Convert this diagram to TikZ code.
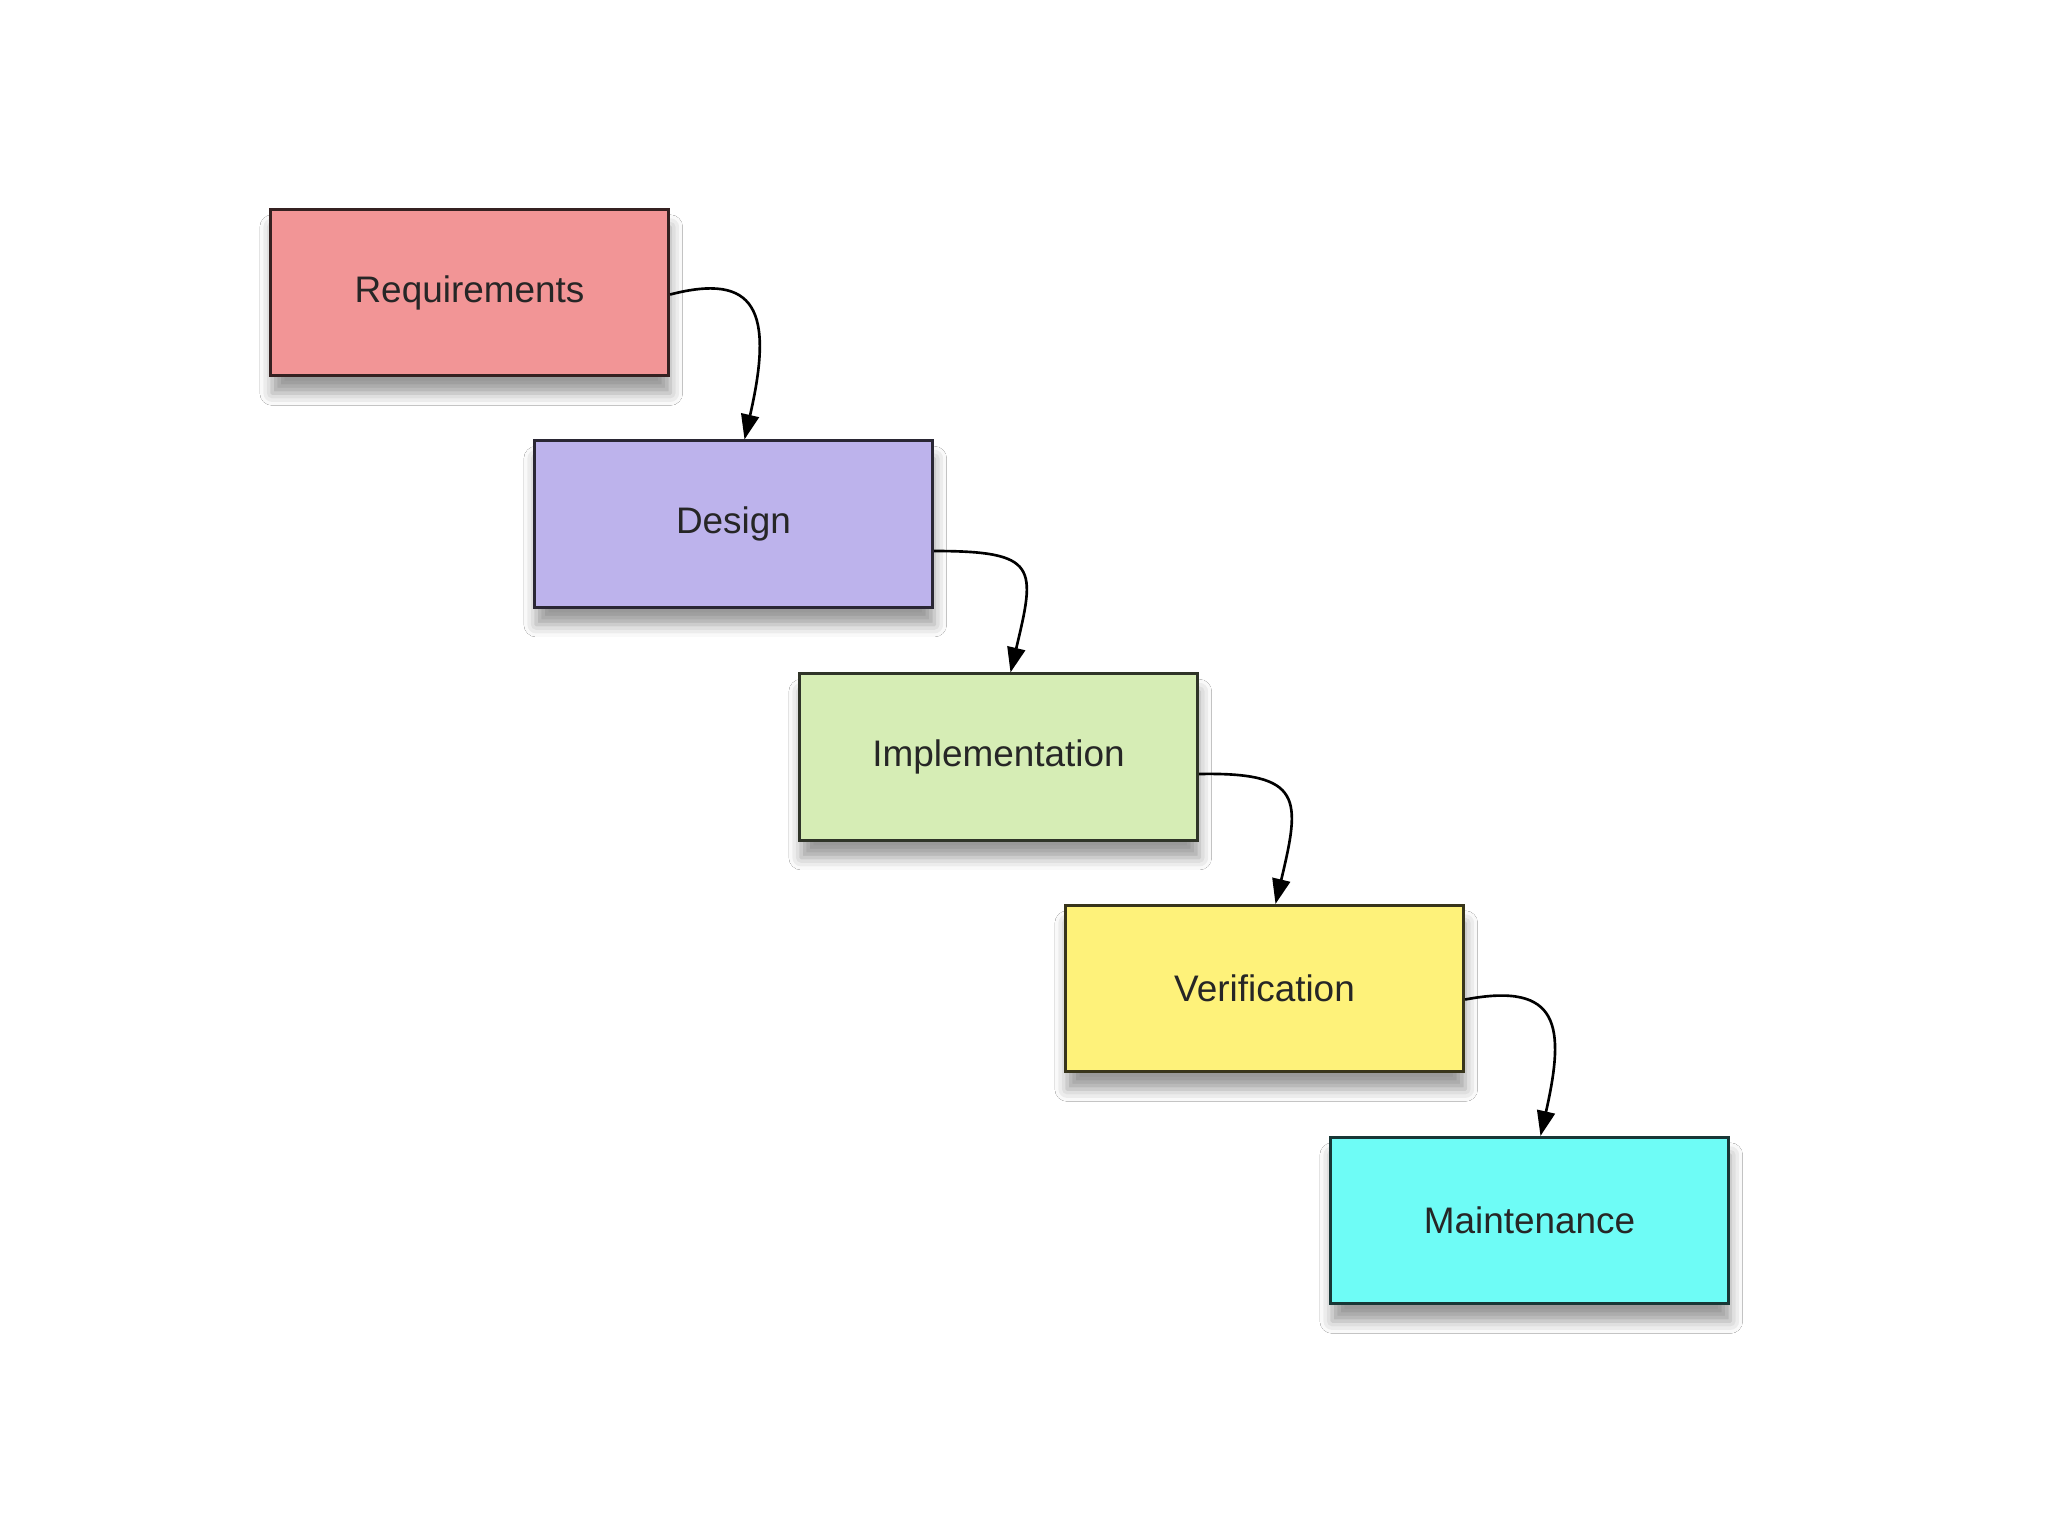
\documentclass[tikz,border=0pt]{standalone}
\usepackage{fontspec}
\setmainfont{Liberation Sans}
\usetikzlibrary{arrows.meta,shadows.blur,calc}
\definecolor{reqc}{HTML}{F29596}
\definecolor{desc}{HTML}{BDB3EC}
\definecolor{impc}{HTML}{D6EDB5}
\definecolor{verc}{HTML}{FEF27A}
\definecolor{mntc}{HTML}{6EFCF6}
\tikzset{
  phase/.style={line width=0.85pt, rectangle, minimum width=3.98cm, minimum height=1.66cm,
    inner sep=0pt, font=\fontsize{10.5}{12}\selectfont, text=black!85,
    blur shadow={shadow xshift=0.5pt, shadow yshift=-5pt, shadow blur radius=3.5pt, shadow opacity=40}},
  phasefill/.style={phase, fill=#1, draw=#1!22!black},
  conn/.style={draw=black, line width=0.75pt, -{Triangle[length=0.25cm, width=0.18cm]}}
}
\begin{document}
\begin{tikzpicture}[x=0.01cm, y=-0.01cm]
\useasboundingbox (0,0) rectangle (2048,1536);
\fill[white] (0,0) rectangle (2048,1536);
\node[phasefill=reqc] (r) at (469.5,292.5) {Requirements};
\node[phasefill=desc] (d) at (733.5,524) {Design};
\node[phasefill=impc] (i) at (998.5,757) {Implementation};
\node[phasefill=verc] (v) at (1264.5,988.5) {Verification};
\node[phasefill=mntc] (m) at (1529.5,1220.5) {Maintenance};
\draw[conn] ($(r.east)+(0,2)$) .. controls +(85,-22) and +(30,-130) .. ($(d.north)+(11,0)$);
\draw[conn] ($(d.east)+(0,27)$) .. controls +(105,0) and +(25,-105) .. ($(i.north)+(12,0)$);
\draw[conn] ($(i.east)+(0,17)$) .. controls +(105,-2) and +(25,-105) .. ($(v.north)+(11,0)$);
\draw[conn] ($(v.east)+(0,11)$) .. controls +(95,-18) and +(25,-110) .. ($(m.north)+(11,0)$);
\end{tikzpicture}
\end{document}
